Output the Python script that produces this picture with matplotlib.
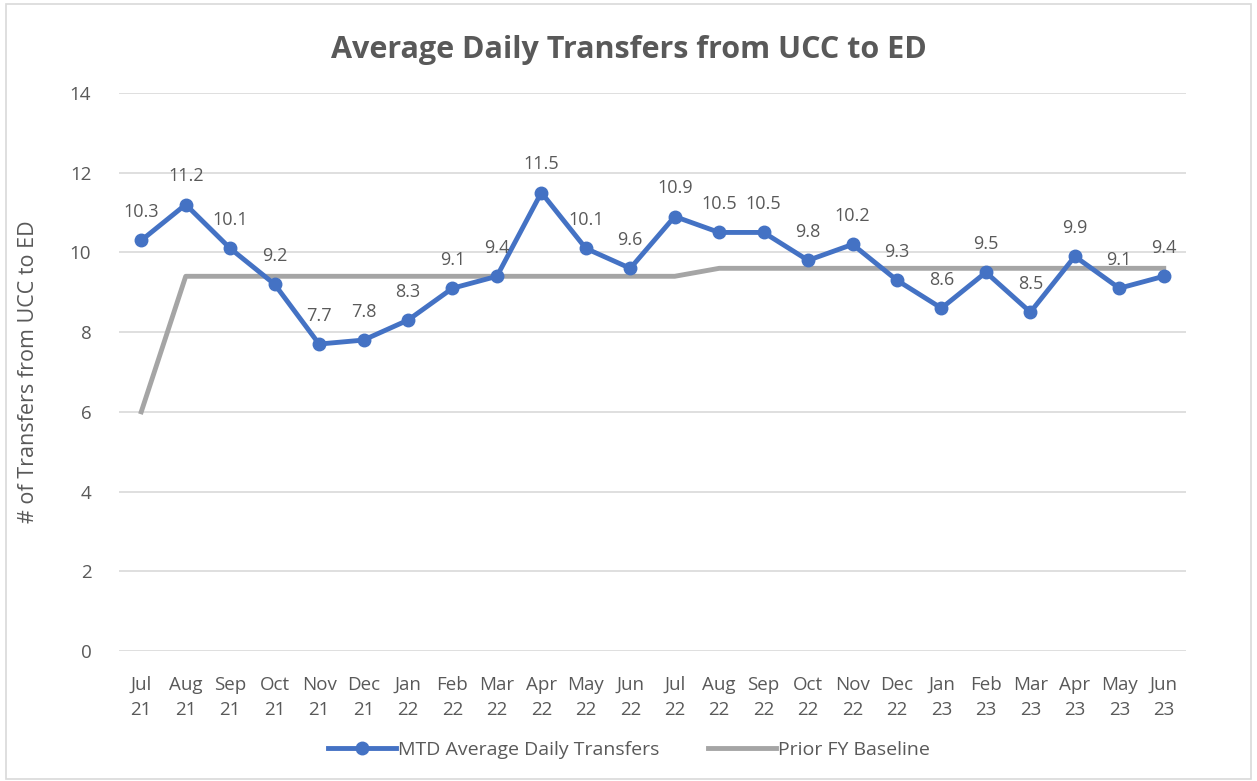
import matplotlib.pyplot as plt
from matplotlib.patches import Rectangle

months = ["Jul\n21", "Aug\n21", "Sep\n21", "Oct\n21", "Nov\n21", "Dec\n21", "Jan\n22", "Feb\n22",
          "Mar\n22", "Apr\n22", "May\n22", "Jun\n22", "Jul\n22", "Aug\n22", "Sep\n22", "Oct\n22",
          "Nov\n22", "Dec\n22", "Jan\n23", "Feb\n23", "Mar\n23", "Apr\n23", "May\n23", "Jun\n23"]
mtd = [10.3, 11.2, 10.1, 9.2, 7.7, 7.8, 8.3, 9.1, 9.4, 11.5, 10.1, 9.6,
       10.9, 10.5, 10.5, 9.8, 10.2, 9.3, 8.6, 9.5, 8.5, 9.9, 9.1, 9.4]
baseline = [6.0, 9.4, 9.4, 9.4, 9.4, 9.4, 9.4, 9.4, 9.4, 9.4, 9.4, 9.4,
            9.4, 9.6, 9.6, 9.6, 9.6, 9.6, 9.6, 9.6, 9.6, 9.6, 9.6, 9.6]

plt.rcParams['font.family'] = ['Open Sans', 'DejaVu Sans']
txt = "#595959"
blue = "#4472c4"
gray = "#a5a5a5"

fig = plt.figure(figsize=(12.57, 7.81), dpi=100)
fig.patches.append(Rectangle((0.005, 0.003), 0.99, 0.992, transform=fig.transFigure,
                             fill=False, edgecolor="#d9d9d9", linewidth=1.2))
ax = fig.add_axes([0.0947, 0.1665, 0.8488, 0.7145])

x = list(range(len(months)))
ax.plot(x, baseline, color=gray, linewidth=3.5, label="Prior FY Baseline", zorder=2)
ax.plot(x, mtd, color=blue, linewidth=3.5, marker="o", markersize=9,
        label="MTD Average Daily Transfers", zorder=3)
for i, v in enumerate(mtd):
    ax.annotate(f"{v:.1f}", (i, v), xytext=(0, 14), textcoords="offset points",
                ha="center", va="bottom", fontsize=13, color=txt)

ax.set_ylim(0, 14)
ax.set_yticks(range(0, 15, 2))
ax.set_xlim(-0.5, len(months) - 0.5)
ax.set_xticks(x)
ax.set_xticklabels(months, fontsize=13.5, color=txt, linespacing=1.5)
ax.tick_params(axis="y", labelsize=13.5, labelcolor=txt, length=0, pad=20)
ax.tick_params(axis="x", length=0, pad=18)
ax.grid(axis="y", color="#d9d9d9", linewidth=1.2)
ax.set_axisbelow(True)
for s in ax.spines.values():
    s.set_visible(False)

ax.set_ylabel("# of Transfers from UCC to ED", fontsize=15.5, color=txt, labelpad=22)
fig.suptitle("Average Daily Transfers from UCC to ED", fontsize=22, fontweight="bold",
             color=txt, y=0.955)

h, l = ax.get_legend_handles_labels()
fig.legend(h[::-1], l[::-1], loc="center", bbox_to_anchor=(0.5, 0.04), ncol=2, frameon=False,
           fontsize=14, labelcolor=txt, handlelength=3.5, handletextpad=0.1, columnspacing=2.5)

fig.savefig("out.png", dpi=100)
